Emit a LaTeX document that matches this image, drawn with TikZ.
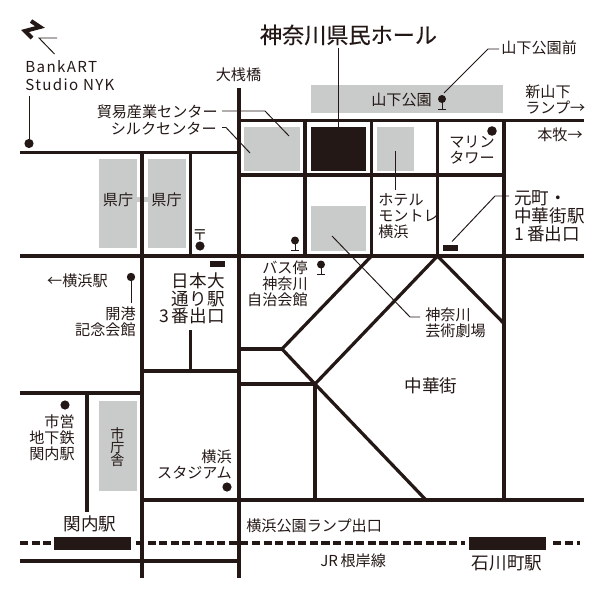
\documentclass[tikz,border=0pt]{standalone}
\usepackage{fontspec}
\setmainfont{Noto Sans CJK JP}
\definecolor{roadblack}{HTML}{231815}
\definecolor{blockgray}{HTML}{C9CACA}
\tikzset{
  road/.style={draw=roadblack,line width=1.85pt},
  leader/.style={draw=roadblack,line width=0.55pt},
  block/.style={fill=blockgray},
  solidblock/.style={fill=roadblack},
  stopdot/.style={fill=roadblack},
  small/.style={inner sep=0pt,text=roadblack,font=\fontsize{8.6}{9.1}\selectfont},
  large/.style={inner sep=0pt,text=roadblack,font=\fontsize{10}{10.2}\selectfont},
}
\begin{document}
\begin{tikzpicture}[x=0.02cm,y=-0.02cm]
\useasboundingbox (0,0) rectangle (605,605);

% blocks
\fill[block] (310.5,85) rectangle (503,113);
\fill[block] (244,126.5) rectangle (300,171);
\fill[solidblock] (310.5,126.5) rectangle (366,171);
\fill[block] (377,126.5) rectangle (414,171);
\fill[block] (310.5,206) rectangle (366,251);
\fill[block] (99,158.5) rectangle (137,248);
\fill[block] (148,158.5) rectangle (185.5,248);
\fill[block] (137,197) rectangle (148,202);
\fill[block] (99,401) rectangle (137,490.5);

% junctions
\coordinate (j1) at (371.5,256);
\coordinate (j2) at (437.5,256);
\coordinate (j3) at (282,349);
\coordinate (j4) at (315,384);
\coordinate (j5) at (426,500);
\coordinate (j6) at (504,323.5);

% roads
\draw[road] (20,152.5)--(239,152.5);
\draw[road] (20,256)--(584,256);
\draw[road] (239,120.5)--(584,120.5);
\draw[road] (239,175)--(504,175);
\draw[road] (239,88)--(239,578);
\draw[road] (142,152.5)--(142,578);
\draw[road] (190.5,152.5)--(190.5,256);
\draw[road] (305,120.5)--(305,256);
\draw[road] (371.5,120.5)--(j1);
\draw[road] (437.5,120.5)--(j2);
\draw[road] (504,120.5)--(504,500);
\draw[road] (142,371)--(239,371);
\draw[road] (190.5,330)--(190.5,371);
\draw[road] (20,393)--(142,393);
\draw[road] (87,393)--(87,512);
\draw[road] (142,500)--(584,500);
\draw[road] (20,561)--(239,561);
\draw[road] (239,349)--(j3);
\draw[road] (239,384)--(j4);
\draw[road] (j4)--(315,500);
\draw[road] (j1)--(j3)--(j4)--(j5);
\draw[road] (j4)--(j2)--(j6);

% railway
\draw[road,dash pattern=on 4.6pt off 2pt] (20,543)--(580,543);
\fill[white] (52,536) rectangle (135,551);
\fill[white] (465,536) rectangle (550,551);
\fill[solidblock] (53.5,536.5) rectangle (131,550);
\fill[solidblock] (468.5,536.5) rectangle (546,550);

% station exits
\fill[solidblock] (443,244.5) rectangle (457.5,251);
\fill[solidblock] (210,261) rectangle (224.5,267);

% north mark
\draw[draw=roadblack,line width=2.3pt] (31,21)--(40,27)--(25,31)--(32,38);
\draw[leader] (57,38)--(39,38)--(54.5,54);

% dots
\fill[stopdot] (29,143.5) circle (4.6);
\fill[stopdot] (200,246) circle (4.6);
\fill[stopdot] (492,131) circle (4.8);
\fill[stopdot] (65,405) circle (4.6);
\fill[stopdot] (227,487) circle (4.6);

% bus stops
\fill[stopdot] (442,99) circle (4);
\draw[leader] (442,99)--(442,109) (438,109)--(446,109);
\fill[stopdot] (295,240.5) circle (4);
\draw[leader] (295,240.5)--(295,250.5) (291,250.5)--(299,250.5);
\fill[stopdot] (321,264.5) circle (4);
\draw[leader] (321,264.5)--(321,274.5) (317,274.5)--(325,274.5);
\fill[stopdot] (131,277) circle (4.2);
\draw[leader] (131,277)--(131,303);

% leaders
\draw[leader] (338,48)--(338,127);
\draw[leader] (499,49)--(488,49)--(444,93);
\draw[leader] (29,96)--(29,143);
\draw[leader] (222,111)--(265,111)--(289,136);
\draw[leader] (222,127.5)--(226,127.5)--(250,153);
\draw[leader] (395,151)--(395,190);
\draw[leader] (509,196)--(495,196)--(452,241.5);
\draw[leader] (332,236)--(410,317)--(420,317);

% labels
\node[inner sep=0pt,text=roadblack,font=\fontsize{12.6}{13}\selectfont\addfontfeature{FakeBold=0.4}] (hall) at (348.5,35) {神奈川県民ホール};
\node[small,anchor=west,align=left,font=\fontsize{8.6}{10.2}\selectfont\addfontfeature{LetterSpace=9}] (bankart) at (25,76) {BankART\\Studio NYK};
\node[small] (osanbashi) at (238.5,75) {大桟橋};
\node[small,anchor=east] (boeki) at (218,112) {貿易産業センター};
\node[small,anchor=east] (silk) at (217,129) {シルクセンター};
\node[small] (kencho1) at (118,199.5) {県庁};
\node[small] (kencho2) at (166.5,199.5) {県庁};
\node[small] (yubin) at (200,235) {〒};
\node[small,anchor=east] (yokohamast) at (108,281) {←横浜駅};
\node[large,anchor=north east,align=right] (nihonodori) at (225,272) {日本大\\通り駅\\3\,番出口};
\node[small,anchor=east,align=right] (busstop) at (308,284) {バス停\\神奈川\\自治会館};
\node[small,anchor=east,align=right] (kaiko) at (136,321.5) {開港\\記念会館};
\node[small,anchor=east,align=right] (shiei) at (75,438) {市営\\地下鉄\\関内駅};
\node[small,align=center,font=\fontsize{8}{7.6}\selectfont] (shichosha) at (117.5,447) {市\\庁\\舎};
\node[small,anchor=east,align=right] (stadium) at (232,464) {横浜\\スタジアム};
\node[large] (kannai) at (90,524) {関内駅};
\node[small,anchor=west] (ramp) at (246,526) {横浜公園ランプ出口};
\node[small,anchor=west] (negishi) at (320,561) {JR\,根岸線};
\node[large] (ishikawacho) at (507,563) {石川町駅};
\node[large] (chukagai) at (431,386) {中華街};
\node[small,anchor=west,align=left] (geijutsu) at (425,323) {神奈川\\芸術劇場};
\node[small,anchor=west] (yamashitamae) at (501,48) {山下公園前};
\node[small,anchor=west] (yamashita) at (371,100) {山下公園};
\node[small,anchor=west,align=left] (shinyamashita) at (525,99) {新山下\\ランプ→};
\node[small,anchor=east] (honmoku) at (583,135) {本牧→};
\node[small,anchor=west,align=left] (marine) at (449,150) {マリン\\タワー};
\node[small,anchor=west,align=left] (hotel) at (378,216) {ホテル\\モントレ\\横浜};
\node[large,anchor=west,align=left] (motomachi) at (514,216) {元町・\\中華街駅\\1\,番出口};
\end{tikzpicture}
\end{document}
